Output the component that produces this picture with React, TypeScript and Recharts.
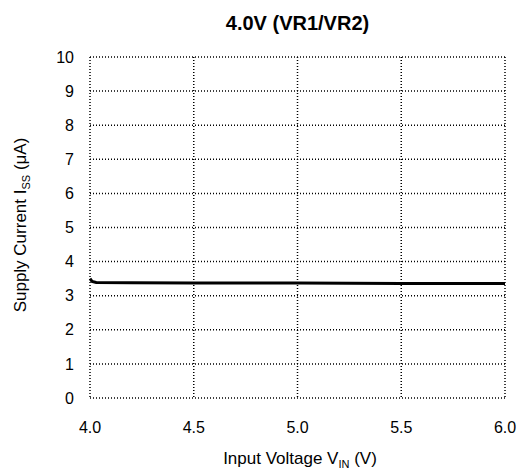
import React from 'react';
import { LineChart, Line, XAxis, YAxis, CartesianGrid } from 'recharts';

const inputVoltage = [4.0, 4.01, 4.03, 4.2, 4.5, 5.0, 5.5, 6.0];
const supplyCurrent = [3.5, 3.42, 3.39, 3.38, 3.37, 3.37, 3.36, 3.36];
const xTicks = [4.0, 4.5, 5.0, 5.5, 6.0];
const yTicks = [0, 1, 2, 3, 4, 5, 6, 7, 8, 9, 10];

const data = inputVoltage.map((v, i) => ({ v, i: supplyCurrent[i] }));

const FONT = '"Liberation Sans", Arial, sans-serif';

const App: React.FC = () => {
    return (
        <div style={{ position: 'absolute', left: 0, top: 0, width: 532, height: 475, background: '#fff' }}>
            <div
                style={{
                    position: 'absolute',
                    left: 90,
                    width: 415,
                    top: 12,
                    textAlign: 'center',
                    fontFamily: FONT,
                    fontWeight: 'bold',
                    fontSize: 20,
                    color: '#000',
                }}
            >
                4.0V (VR1/VR2)
            </div>
            <LineChart
                width={532}
                height={475}
                data={data}
                margin={{ top: 57, right: 27, left: 0, bottom: 0 }}
            >
                <CartesianGrid stroke="#000" strokeDasharray="1 2" strokeWidth={1.5} />
                <XAxis
                    dataKey="v"
                    type="number"
                    domain={[4, 6]}
                    ticks={xTicks}
                    tickFormatter={(t: number) => t.toFixed(1)}
                    axisLine={false}
                    tickLine={false}
                    height={77}
                    tick={{ fill: '#000', fontSize: 16, fontFamily: FONT, dy: 16 }}
                />
                <YAxis
                    type="number"
                    domain={[0, 10]}
                    ticks={yTicks}
                    axisLine={false}
                    tickLine={false}
                    width={90}
                    interval={0}
                    tick={{ fill: '#000', fontSize: 16, fontFamily: FONT, dx: -8 }}
                />
                <Line
                    type="linear"
                    dataKey="i"
                    stroke="#000"
                    strokeWidth={3}
                    dot={false}
                    isAnimationActive={false}
                />
            </LineChart>
            <svg
                width={532}
                height={475}
                style={{ position: 'absolute', left: 0, top: 0, pointerEvents: 'none' }}
            >
                <text x={300} y={464} textAnchor="middle" fill="#000" fontSize={17} fontFamily={FONT}>
                    Input Voltage V<tspan fontSize={11} dy={4}>IN</tspan>
                    <tspan dy={-4}> (V)</tspan>
                </text>
                <text
                    x={26}
                    y={225}
                    textAnchor="middle"
                    fill="#000"
                    fontSize={17}
                    fontFamily={FONT}
                    transform="rotate(-90 26 225)"
                >
                    Supply Current I<tspan fontSize={11} dy={4}>SS</tspan>
                    <tspan dy={-4}> (μA)</tspan>
                </text>
            </svg>
        </div>
    );
};

export default App;
